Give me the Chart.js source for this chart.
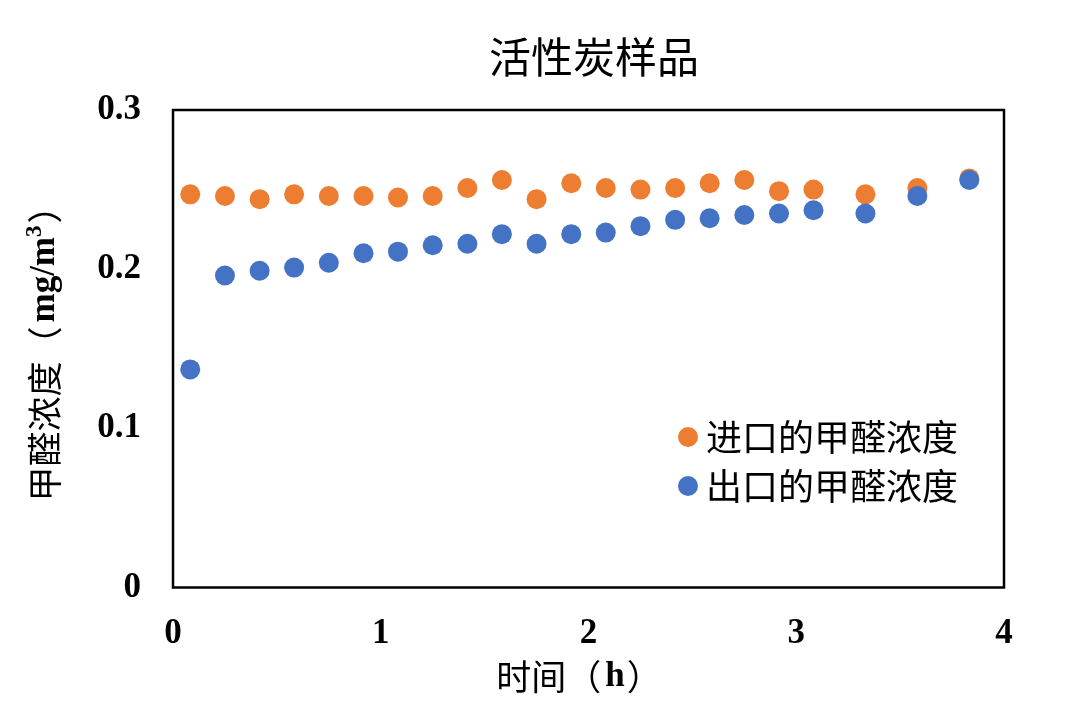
<!DOCTYPE html>
<html>
<head>
<meta charset="utf-8">
<script src="https://cdn.jsdelivr.net/npm/chart.js@4.4.1/dist/chart.umd.min.js"></script>
<style>
  html, body { margin: 0; padding: 0; background: #fff; }
  #wrap { width: 1080px; height: 710px; }
</style>
</head>
<body>
<div id="wrap"><canvas id="chart" width="1080" height="710"></canvas></div>
<script>
// sampling times (h) and formaldehyde concentrations (mg/m3)
const hours = [0.083, 0.25, 0.417, 0.583, 0.75, 0.917, 1.083, 1.25, 1.417, 1.583, 1.75,
               1.917, 2.083, 2.25, 2.417, 2.583, 2.75, 2.917, 3.083, 3.333, 3.583, 3.833];
const inletConc = [0.247, 0.246, 0.244, 0.247, 0.246, 0.246, 0.245, 0.246, 0.251, 0.256, 0.244,
                   0.254, 0.251, 0.250, 0.251, 0.254, 0.256, 0.249, 0.250, 0.247, 0.251, 0.257];
const outletConc = [0.137, 0.196, 0.199, 0.201, 0.204, 0.210, 0.211, 0.215, 0.216, 0.222, 0.216,
                    0.222, 0.223, 0.227, 0.231, 0.232, 0.234, 0.235, 0.237, 0.235, 0.246, 0.256];
const xTicks = [0, 1, 2, 3, 4];
const yTicks = [0, 0.1, 0.2, 0.3];
const seriesNames = ['进口的甲醛浓度', '出口的甲醛浓度'];

const ORANGE = '#ED7D31';
const BLUE = '#4472C4';
const CJK = '"Noto Sans CJK SC"';
const SERIF = '"Liberation Serif", "Times New Roman", serif';

function toPoints(values) {
    return hours.map((h, i) => ({ x: h, y: values[i] }));
}

// draw a row of text pieces with different fonts, centred on 0
function drawRuns(ctx, runs) {
    let total = 0;
    runs.forEach(r => {
        ctx.font = r.font;
        r.w = ctx.measureText(r.text).width + (r.gap || 0);
        total += r.w;
    });
    let x = -total / 2;
    runs.forEach(r => {
        ctx.font = r.font;
        ctx.fillText(r.text, x, r.dy || 0);
        x += r.w;
    });
}

const decorPlugin = {
    id: 'decor',
    afterDraw(chart) {
        const ctx = chart.ctx;
        const area = chart.chartArea;
        ctx.save();

        // frame round the plot
        ctx.strokeStyle = '#000';
        ctx.lineWidth = 2.5;
        ctx.strokeRect(area.left, area.top, area.right - area.left, area.bottom - area.top);

        ctx.fillStyle = '#000';
        ctx.textBaseline = 'middle';
        ctx.textAlign = 'left';

        // title
        ctx.save();
        ctx.translate(594, 57);
        drawRuns(ctx, [{ text: '活性炭样品', font: '42px ' + CJK }]);
        ctx.restore();

        // x axis title
        ctx.save();
        ctx.translate(579, 677);
        drawRuns(ctx, [
            { text: '时间（', font: '35px ' + CJK, gap: 4 },
            { text: 'h', font: 'bold 35px ' + SERIF, gap: 2 },
            { text: '）', font: '35px ' + CJK }
        ]);
        ctx.restore();

        // y axis title
        ctx.save();
        ctx.translate(45, 345);
        ctx.rotate(-Math.PI / 2);
        drawRuns(ctx, [
            { text: '甲醛浓度（', font: '35px ' + CJK, gap: 4 },
            { text: 'mg/m', font: 'bold 35px ' + SERIF },
            { text: '3', font: 'bold 23px ' + SERIF, dy: -10, gap: 2 },
            { text: '）', font: '35px ' + CJK }
        ]);
        ctx.restore();

        // legend inside the plot
        const colors = [ORANGE, BLUE];
        seriesNames.forEach((name, i) => {
            const y = 437 + i * 49;
            ctx.fillStyle = colors[i];
            ctx.beginPath();
            ctx.arc(688, y, 10, 0, Math.PI * 2);
            ctx.fill();
            ctx.fillStyle = '#000';
            ctx.font = '36px ' + CJK;
            ctx.fillText(name, 706, y);
        });

        ctx.restore();
    }
};

new Chart(document.getElementById('chart'), {
    type: 'scatter',
    data: {
        datasets: [{
            label: seriesNames[0],
            data: toPoints(inletConc),
            backgroundColor: ORANGE,
            borderColor: ORANGE,
            pointRadius: 10,
            pointBorderWidth: 0,
            order: 1
        }, {
            label: seriesNames[1],
            data: toPoints(outletConc),
            backgroundColor: BLUE,
            borderColor: BLUE,
            pointRadius: 10,
            pointBorderWidth: 0,
            order: 0
        }]
    },
    options: {
        responsive: false,
        animation: false,
        devicePixelRatio: 1,
        layout: { padding: { top: 110, right: 76, left: 0, bottom: 0 } },
        plugins: {
            legend: { display: false },
            title: { display: false },
            tooltip: { enabled: false }
        },
        scales: {
            x: {
                type: 'linear',
                min: 0,
                max: 4,
                afterBuildTicks: s => { s.ticks = xTicks.map(v => ({ value: v })); },
                afterFit: s => { s.height = 122.5; },
                grid: { display: false, drawTicks: false },
                border: { display: false },
                ticks: {
                    padding: 25,
                    color: '#000',
                    font: { family: SERIF, size: 35, weight: 'bold' },
                    callback: v => String(v)
                }
            },
            y: {
                type: 'linear',
                min: 0,
                max: 0.3,
                afterBuildTicks: s => { s.ticks = yTicks.map(v => ({ value: v })); },
                afterFit: s => { s.width = 173; },
                grid: { display: false, drawTicks: false },
                border: { display: false },
                ticks: {
                    padding: 32,
                    color: '#000',
                    font: { family: SERIF, size: 35, weight: 'bold' },
                    callback: v => v === 0 ? '0' : v.toFixed(1)
                }
            }
        }
    },
    plugins: [decorPlugin]
});
</script>
</body>
</html>
